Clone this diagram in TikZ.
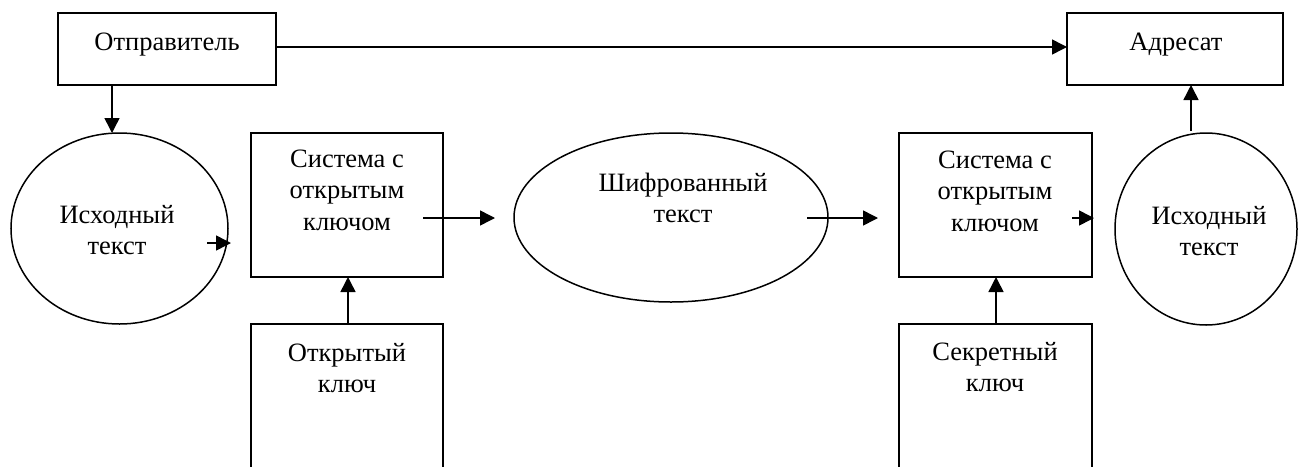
\documentclass[tikz,border=0pt]{standalone}
\usepackage{fontspec}
\setmainfont{Liberation Serif}
\usetikzlibrary{shapes.geometric,arrows.meta}
\begin{document}
\begin{tikzpicture}[x=1pt,y=-1pt,
  shp/.style={draw=black,line width=1.5pt,inner sep=0pt,outer sep=0pt},
  boxs/.style={shp,rectangle},
  ell/.style={shp,ellipse},
  txt/.style={anchor=base,inner sep=0pt,outer sep=0pt,font=\fontsize{26.5}{31.5}\selectfont},
  arr/.style={line width=1.5pt,-{Triangle[length=15pt,width=15pt]}}]
\useasboundingbox (0,0) rectangle (1300,466);
\clip (0,0) rectangle (1300,466);
% shapes
\node[boxs,minimum width=218pt,minimum height=72pt] (snd) at (167,49) {};
\node[boxs,minimum width=216pt,minimum height=72pt] (rcv) at (1175,49) {};
\node[ell,minimum width=217pt,minimum height=191pt] (src) at (119.5,228.5) {};
\node[boxs,minimum width=192pt,minimum height=144pt] (sys1) at (347,205) {};
\node[boxs,minimum width=192pt,minimum height=180pt] (pub) at (347,414) {};
\node[ell,minimum width=314pt,minimum height=169pt] (enc) at (671,217.5) {};
\node[boxs,minimum width=193pt,minimum height=144pt] (sys2) at (995.5,205) {};
\node[boxs,minimum width=193pt,minimum height=180pt] (sec) at (995.5,414) {};
\node[ell,minimum width=182pt,minimum height=192pt] (dst) at (1206,229) {};
% texts
\node[txt] (tsnd) at (167,50) {Отправитель};
\node[txt] (trcv) at (1176,50) {Адресат};
\node[txt] (tsrc) at (117,223) {\begin{tabular}[t]{@{}c@{}}Исходный\\текст\end{tabular}};
\node[txt] (tsys1) at (347,167) {\begin{tabular}[t]{@{}c@{}}Система с\\открытым\\ключом\end{tabular}};
\node[txt] (tpub) at (347,361) {\begin{tabular}[t]{@{}c@{}}Открытый\\ключ\end{tabular}};
\node[txt] (tenc) at (683,191) {\begin{tabular}[t]{@{}c@{}}Шифрованный\\текст\end{tabular}};
\node[txt] (tsys2) at (995,168) {\begin{tabular}[t]{@{}c@{}}Система с\\открытым\\ключом\end{tabular}};
\node[txt] (tsec) at (995,360) {\begin{tabular}[t]{@{}c@{}}Секретный\\ключ\end{tabular}};
\node[txt] (tdst) at (1209,224) {\begin{tabular}[t]{@{}c@{}}Исходный\\текст\end{tabular}};
% free ends
\coordinate (a1s) at (112,85);   \coordinate (a1e) at (112,133);
\coordinate (a2s) at (276,47);   \coordinate (a2e) at (1067,47);
\coordinate (a3s) at (207,243);  \coordinate (a3e) at (231,243);
\coordinate (a4s) at (423,218);  \coordinate (a4e) at (495,218);
\coordinate (a5s) at (807,218);  \coordinate (a5e) at (878,218);
\coordinate (a6s) at (1072,218); \coordinate (a6e) at (1094,218);
\coordinate (a7s) at (1191,131); \coordinate (a7e) at (1191,85);
\coordinate (a8s) at (348,324);  \coordinate (a8e) at (348,277);
\coordinate (a9s) at (996,324);  \coordinate (a9e) at (996,277);
% connectors
\draw[arr] (a1s) -- (a1e);
\draw[arr] (a2s) -- (a2e);
\draw[arr] (a3s) -- (a3e);
\draw[arr] (a4s) -- (a4e);
\draw[arr] (a5s) -- (a5e);
\draw[arr] (a6s) -- (a6e);
\draw[arr] (a7s) -- (a7e);
\draw[arr] (a8s) -- (a8e);
\draw[arr] (a9s) -- (a9e);
\end{tikzpicture}
\end{document}
